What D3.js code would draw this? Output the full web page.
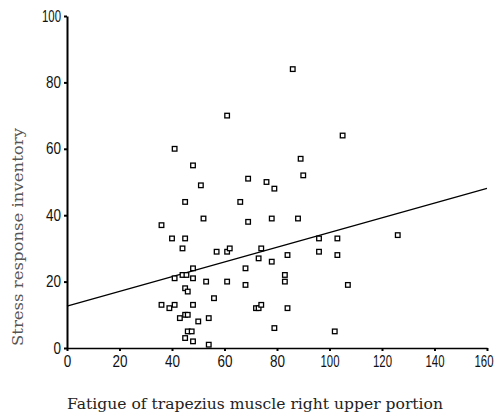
<!DOCTYPE html>
<html>
<head>
<meta charset="utf-8">
<script src="https://cdn.jsdelivr.net/npm/d3@7"></script>
<style>
  body { margin: 0; background: #fff; }
  svg { display: block; }
</style>
</head>
<body>
<div id="chart"></div>
<script>
// data
var fatigue = [86, 61, 41, 48, 51, 45, 52, 36, 69, 76, 79, 89, 90, 66, 69, 78, 88,
  105, 126, 96, 103, 96, 103, 107, 102,
  40, 45, 44, 57, 61, 62, 74, 73, 78, 84, 68, 48, 44, 45.5, 41, 48, 53, 61, 68, 83, 83,
  45, 46, 56, 36, 39, 41, 48, 72, 73, 74, 84, 43, 45, 46, 54, 50, 79, 46, 47.5, 45, 48, 54];
var stress = [84, 70, 60, 55, 49, 44, 39, 37, 51, 50, 48, 57, 52, 44, 38, 39, 39,
  64, 34, 33, 33, 29, 28, 19, 5,
  33, 33, 30, 29, 29, 30, 30, 27, 26, 28, 24, 24, 22, 22, 21, 21, 20, 20, 19, 22, 20,
  18, 17, 15, 13, 12, 13, 13, 12, 12, 13, 12, 9, 10, 10, 9, 8, 6, 5, 5, 3, 2, 1];
var fitLine = [[0, 12.6], [160, 48.1]];
var xTicks = [0, 20, 40, 60, 80, 100, 120, 140, 160];
var yTicks = [0, 20, 40, 60, 80, 100];

var W = 499, H = 414;
var margin = {top: 16, right: 12, bottom: 66, left: 67};
var width = W - margin.left - margin.right,
    height = H - margin.top - margin.bottom;

var svg = d3.select("#chart").append("svg")
    .attr("width", W)
    .attr("height", H);

var g = svg.append("g")
    .attr("transform", "translate(" + margin.left + "," + margin.top + ")");

var x = d3.scaleLinear().domain([0, 160]).range([0, width]);
var y = d3.scaleLinear().domain([0, 100]).range([height, 0]);

// narrow digits like the original tick font ("1" is slim)
function labelWidth(d) {
  return String(d).split("").reduce(function(s, c) { return s + (c === "1" ? 4 : 7.5); }, 0);
}

// x axis
var xAxis = g.append("g")
    .attr("transform", "translate(0," + height + ")")
    .call(d3.axisBottom(x).tickValues(xTicks).tickSize(3).tickSizeOuter(0));
xAxis.select(".domain").attr("stroke", "#000").attr("stroke-width", 1.6);
xAxis.selectAll(".tick line").attr("stroke", "#000").attr("stroke-width", 2);
xAxis.selectAll(".tick text")
    .attr("y", 8)
    .attr("font-family", "'Liberation Sans', Arial, sans-serif")
    .attr("font-size", 16)
    .attr("fill", "#111")
    .attr("textLength", labelWidth)
    .attr("lengthAdjust", "spacingAndGlyphs");
// last label sits at the right edge: anchor it at its end so it stays inside
xAxis.selectAll(".tick text")
    .filter(function(d) { return d === 160; })
    .attr("text-anchor", "end")
    .attr("x", 6);

// y axis
var yAxis = g.append("g")
    .call(d3.axisLeft(y).tickValues(yTicks).tickSize(3).tickSizeOuter(0));
yAxis.select(".domain").attr("stroke", "#000").attr("stroke-width", 2);
yAxis.selectAll(".tick line").attr("stroke", "#000").attr("stroke-width", 2);
yAxis.selectAll(".tick text")
    .attr("x", -6)
    .attr("font-family", "'Liberation Sans', Arial, sans-serif")
    .attr("font-size", 16)
    .attr("fill", "#111")
    .attr("textLength", labelWidth)
    .attr("lengthAdjust", "spacingAndGlyphs");

// regression line
g.append("path")
    .datum(fitLine)
    .attr("fill", "none")
    .attr("stroke", "#000")
    .attr("stroke-width", 1.2)
    .attr("d", d3.line().x(function(d) { return x(d[0]); }).y(function(d) { return y(d[1]); }));

// points
var pts = fatigue.map(function(v, i) { return [v, stress[i]]; });
g.append("g")
  .selectAll("rect")
  .data(pts)
  .enter().append("rect")
    .attr("x", function(d) { return x(d[0]) - 2.3; })
    .attr("y", function(d) { return y(d[1]) - 2.3; })
    .attr("width", 4.6)
    .attr("height", 4.6)
    .attr("fill", "#fff")
    .attr("stroke", "#000")
    .attr("stroke-width", 1.3);

// axis titles
svg.append("text")
    .attr("transform", "translate(23,237) rotate(-90)")
    .attr("text-anchor", "middle")
    .attr("font-family", "'DejaVu Serif', 'Liberation Serif', serif")
    .attr("font-size", 15)
    .attr("fill", "#555")
    .attr("textLength", 218)
    .attr("lengthAdjust", "spacingAndGlyphs")
    .text("Stress response inventory");

svg.append("text")
    .attr("x", 255)
    .attr("y", 409)
    .attr("text-anchor", "middle")
    .attr("font-family", "'DejaVu Serif', 'Liberation Serif', serif")
    .attr("font-size", 15)
    .attr("fill", "#222")
    .attr("textLength", 376)
    .attr("lengthAdjust", "spacingAndGlyphs")
    .text("Fatigue of trapezius muscle right upper portion");
</script>
</body>
</html>
